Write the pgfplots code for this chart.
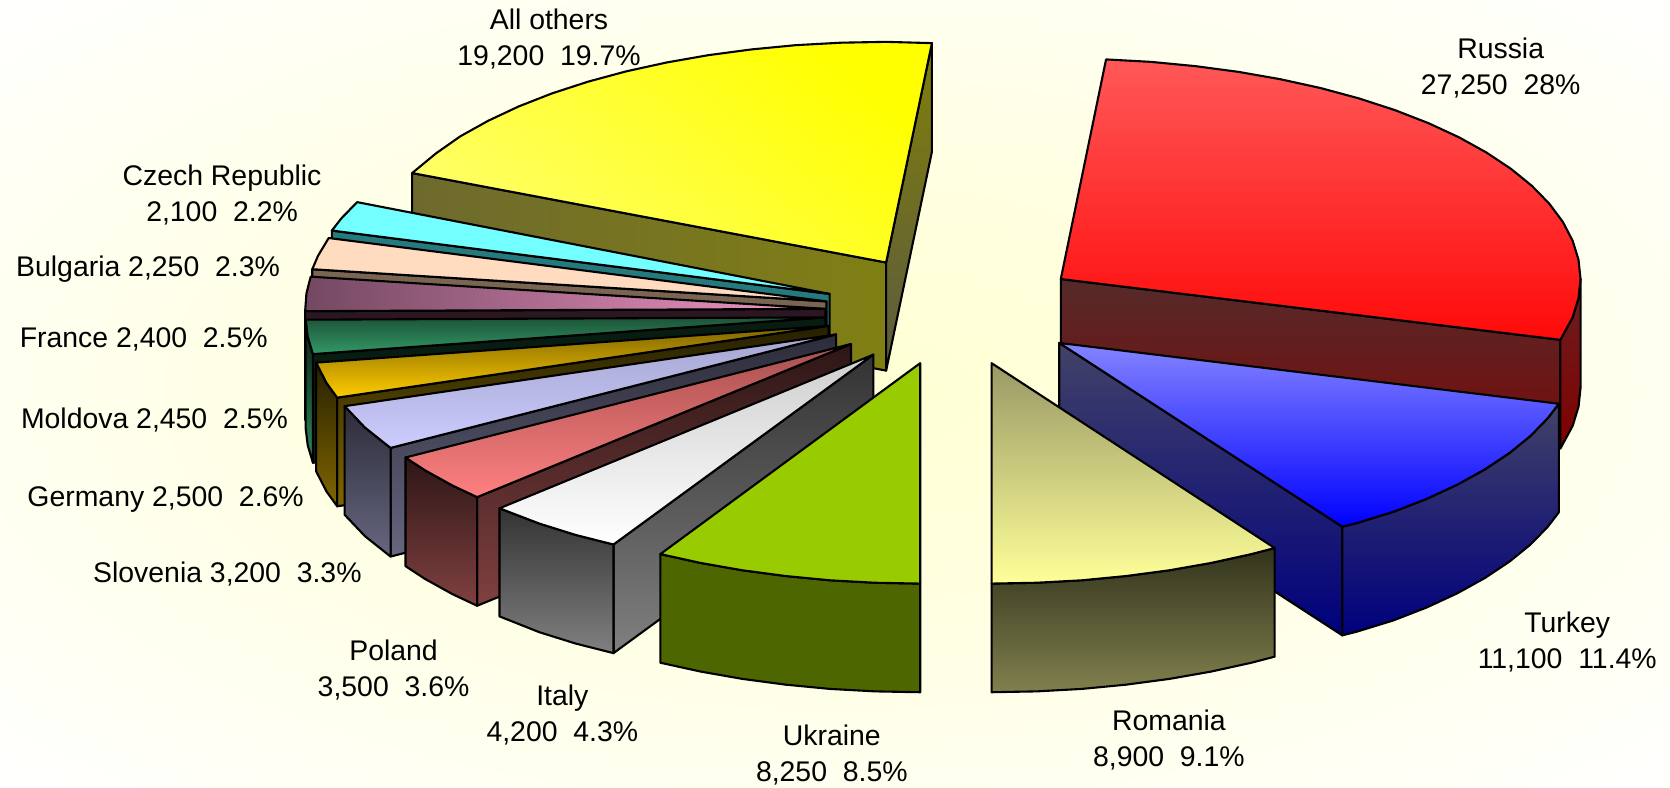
\documentclass[border=0pt]{standalone}
\usepackage{fontspec}
\setmainfont{Liberation Sans}
\usepackage{pgfplots}
\pgfplotsset{compat=1.18}
\definecolor{bgA}{HTML}{FFFFD4}
\definecolor{bgB}{HTML}{FFFFDC}
\definecolor{bgC}{HTML}{FFFFF0}
\definecolor{bgD}{HTML}{FFFFFE}
\pgfdeclareradialshading{bgshade}{\pgfpoint{0bp}{0bp}}{color(0bp)=(bgA); color(10bp)=(bgB); color(25bp)=(bgC); color(35bp)=(bgD); color(50bp)=(bgD)}
\newcommand{\hc}[2]{\definecolor{#1}{HTML}{#2}}
\hc{ruT}{FF5858}\hc{ruB}{FF0A0A}\hc{ruWT}{552A2A}\hc{ruWB}{7A0A0A}
\hc{tuT}{8484FF}\hc{tuB}{0000FF}\hc{tuWT}{424268}\hc{tuWB}{00007E}
\hc{roT}{999966}\hc{roB}{FFFF99}\hc{roWT}{33331C}\hc{roWB}{80804E}
\hc{ukT}{99CC00}\hc{ukW}{4D6600}
\hc{itT}{CFCFCF}\hc{itB}{FFFFFF}\hc{itWT}{333333}\hc{itWB}{808080}
\hc{poT}{A85050}\hc{poB}{FF8080}\hc{poWT}{2E1616}\hc{poWB}{804040}
\hc{slT}{A6A6D0}\hc{slB}{CCCCFF}\hc{slWT}{2C2C3A}\hc{slWB}{666680}
\hc{geT}{7E6400}\hc{geB}{FFCC00}\hc{geWT}{262000}\hc{geWB}{806600}
\hc{moT}{1C5438}\hc{moB}{339966}\hc{moWT}{081C12}\hc{moWB}{2E8A5C}
\hc{frL}{744862}\hc{frR}{F498C8}\hc{frW}{2C1622}
\hc{buT}{FFDCC0}\hc{buW}{7A6452}
\hc{czT}{73FFFF}\hc{czW}{257A7E}
\hc{aoA}{FFFF00}\hc{aoB}{FFFF66}\hc{aoWA}{6E6A2E}\hc{aoWB}{807F14}\hc{aoRT}{807F0A}\hc{aoRB}{5C5A40}
\hc{ruRT}{6A2020}\hc{ruRB}{800000}
\tikzset{
  pf/.style={draw=black, line width=2.1pt, line join=round},
  vs/.style 2 args={pf, top color=#1, bottom color=#2},
  lab/.style={font=\fontsize{28.4}{36}\selectfont, align=center, text=black, inner sep=0pt},
}
\begin{document}
\begin{tikzpicture}
\begin{axis}[
  scale only axis, width=1670pt, height=787pt,
  xmin=0, xmax=1568, ymin=0, ymax=739, y dir=reverse,
  hide axis,
]
% background
\addplot[shading=bgshade, draw=none] coordinates {(0,0) (1568,0) (1568,739) (0,739)} --cycle;

% All others
\addplot[pf, left color=aoWA, right color=aoWB] coordinates {(832,246.5) (387,162.5) (387,264.5) (832,348)} --cycle;
\addplot[vs={aoRT}{aoRB}] coordinates {(875,40.5) (832,246.5) (832,348) (875,142.5)} --cycle;
\addplot[pf, left color=aoB, right color=aoA, shading angle=140] coordinates {(832,246.5) (387,162.5) (409.4,144) (432.2,128) (458.2,113.5) (486.9,100) (518.3,87.7) (552.1,76.7) (588,67) (625.8,58.7) (665.1,51.8) (705.7,46.4) (747.3,42.4) (789.5,40.1) (832,39.3) (875,40.5)} --cycle;

% Czech Republic
\addplot[pf, fill=czW] coordinates {(779,276) (311.6,216.5) (311.6,318.5) (779,378)} --cycle;
\addplot[pf, fill=czT] coordinates {(779,276) (311.6,216.5) (320.4,205.2) (335.3,189.8)} --cycle;

% Bulgaria
\addplot[pf, fill=buW] coordinates {(776,283) (293.2,252.8) (293.2,354.8) (776,385)} --cycle;
\addplot[pf, fill=buT] coordinates {(776,283) (293.2,252.8) (298.7,240) (308.6,223.5)} --cycle;

% France
\addplot[pf, fill=frW] coordinates {(775,290) (286.5,292.2) (286.5,394.2) (775,392)} --cycle;
\addplot[pf, left color=frL, right color=frR] coordinates {(775,290) (286.5,292.2) (287.7,275.6) (291.7,259.8)} --cycle;

% Moldova
\addplot[pf, fill=moWT] coordinates {(775,298) (293.8,332.5) (293.8,434.5) (775,400)} --cycle;
\addplot[vs={moWT}{moWB}] coordinates {(293.8,332.5) (288.9,316) (287,300.2) (287,402.2) (288.9,418) (293.8,434.5)} --cycle;
\addplot[vs={moT}{moB}] coordinates {(775,298) (293.8,332.5) (288.9,316) (287,300.2)} --cycle;

% Germany
\addplot[vs={geWT}{geWB}] coordinates {(778,306) (316.6,373.4) (316.6,475.4) (778,408)} --cycle;
\addplot[vs={geWT}{geWB}] coordinates {(316.6,373.4) (306.6,359.6) (296.8,340.5) (296.8,442.5) (306.6,461.6) (316.6,475.4)} --cycle;
\addplot[vs={geT}{geB}] coordinates {(778,306) (316.6,373.4) (306.6,359.6) (296.8,340.5)} --cycle;

% Slovenia
\addplot[vs={slWT}{slWB}] coordinates {(785,314) (366.7,420.6) (366.7,522.6) (785,416)} --cycle;
\addplot[vs={slWT}{slWB}] coordinates {(366.7,420.6) (342.7,401.5) (323.6,381.4) (323.6,483.4) (342.7,503.5) (366.7,522.6)} --cycle;
\addplot[vs={slT}{slB}] coordinates {(785,314) (366.7,420.6) (342.7,401.5) (323.6,381.4)} --cycle;

% Poland
\addplot[vs={poWT}{poWB}] coordinates {(799,323) (448,466.8) (448,568.8) (799,425)} --cycle;
\addplot[vs={poWT}{poWB}] coordinates {(448,466.8) (425.2,456.1) (399.2,441.7) (380.7,429.6) (380.7,531.6) (399.2,543.7) (425.2,558.1) (448,568.8)} --cycle;
\addplot[vs={poT}{poB}] coordinates {(799,323) (448,466.8) (425.2,456.1) (399.2,441.7) (380.7,429.6)} --cycle;

% Italy
\addplot[vs={itWT}{itWB}] coordinates {(820,333) (576,511.3) (576,613.3) (820,435)} --cycle;
\addplot[vs={itWT}{itWB}] coordinates {(576,511.3) (540.1,502.2) (506.3,491.6) (469,477.3) (469,578.8) (506.3,593.6) (540.1,604.2) (576,613.3)} --cycle;
\addplot[vs={itT}{itB}] coordinates {(820,333) (576,511.3) (540.1,502.2) (506.3,491.6) (469,477.3)} --cycle;

% Ukraine
\addplot[pf, fill=ukW] coordinates {(864,548) (821.5,547.2) (779.3,544.9) (737.7,540.9) (697.1,535.5) (657.8,528.6) (620,520.3) (620,622.3) (657.8,630.6) (697.1,637.5) (737.7,642.9) (779.3,646.9) (821.5,649.2) (864,650)} --cycle;
\addplot[pf, fill=ukT] coordinates {(864,341) (864,548) (821.5,547.2) (779.3,544.9) (737.7,540.9) (697.1,535.5) (657.8,528.6) (620,520.3)} --cycle;

% Russia
\addplot[vs={ruWT}{ruWB}] coordinates {(996,262) (1465.1,319.1) (1465.1,421.1) (996,364)} --cycle;
\addplot[vs={ruRT}{ruRB}] coordinates {(1484,262) (1482.1,280) (1476.6,297.9) (1465.1,319.1) (1465.1,421.1) (1476.6,399.9) (1482.1,382) (1484,364)} --cycle;
\addplot[vs={ruT}{ruB}] coordinates {(996,262) (1038.5,55.8) (1080.7,58.1) (1122.3,62.1) (1162.9,67.5) (1202.2,74.4) (1240,82.7) (1275.9,92.4) (1309.7,103.4) (1341.1,115.6) (1369.8,128.9) (1395.8,143.3) (1418.6,158.5) (1438.3,174.5) (1454.6,191.2) (1467.4,208.4) (1476.6,226.1) (1482.1,244) (1484,262) (1482.1,280) (1476.6,297.9) (1465.1,319.1)} --cycle;

% Turkey
\addplot[vs={tuWT}{tuWB}] coordinates {(994.5,322) (1260.3,494.6) (1260.3,596.6) (994.5,424)} --cycle;
\addplot[vs={tuWT}{tuWB}] coordinates {(1463.6,379.1) (1453.1,392.8) (1436.8,409.5) (1417.1,425.5) (1394.3,440.7) (1368.3,455.1) (1339.6,468.4) (1308.2,480.6) (1274.4,491) (1260.3,494.6) (1260.3,596.6) (1274.4,593) (1308.2,582.6) (1339.6,570.4) (1368.3,557.1) (1394.3,542.7) (1417.1,527.5) (1436.8,511.5) (1453.1,494.8) (1463.6,481.1)} --cycle;
\addplot[vs={tuT}{tuB}] coordinates {(994.5,322) (1463.6,379.1) (1453.1,392.8) (1436.8,409.5) (1417.1,425.5) (1394.3,440.7) (1368.3,455.1) (1339.6,468.4) (1308.2,480.6) (1274.4,491) (1260.3,494.6)} --cycle;

% Romania
\addplot[vs={roWT}{roWB}] coordinates {(1196.8,514.6) (1175,520.3) (1137.2,528.6) (1097.9,535.5) (1057.3,540.9) (1015.7,544.9) (973.5,547.2) (931,548) (931,650) (973.5,649.2) (1015.7,646.9) (1057.3,642.9) (1097.9,637.5) (1137.2,630.6) (1175,622.3) (1196.8,616.6)} --cycle;
\addplot[vs={roT}{roB}] coordinates {(931,341) (1196.8,514.6) (1175,520.3) (1137.2,528.6) (1097.9,535.5) (1057.3,540.9) (1015.7,544.9) (973.5,547.2) (931,548)} --cycle;

% Labels
\node[lab] at (axis cs:515.5,36.5) {All others\\19,200\ \ 19.7\%};
\node[lab] at (axis cs:1409,63.5) {Russia\\27,250\ \ 28\%};
\node[lab] at (axis cs:208.5,183) {Czech Republic\\2,100\ \ 2.2\%};
\node[lab] at (axis cs:139,253) {Bulgaria 2,250\ \ 2.3\%};
\node[lab] at (axis cs:135,319) {France 2,400\ \ 2.5\%};
\node[lab] at (axis cs:145,394) {Moldova 2,450\ \ 2.5\%};
\node[lab] at (axis cs:155.5,469) {Germany 2,500\ \ 2.6\%};
\node[lab] at (axis cs:213.5,539) {Slovenia 3,200\ \ 3.3\%};
\node[lab] at (axis cs:369.5,629) {Poland\\3,500\ \ 3.6\%};
\node[lab] at (axis cs:528,671) {Italy\\4,200\ \ 4.3\%};
\node[lab] at (axis cs:781,709) {Ukraine\\8,250\ \ 8.5\%};
\node[lab] at (axis cs:1097.5,695) {Romania\\8,900\ \ 9.1\%};
\node[lab] at (axis cs:1471.5,603) {Turkey\\11,100\ \ 11.4\%};
\end{axis}
\end{tikzpicture}
\end{document}
